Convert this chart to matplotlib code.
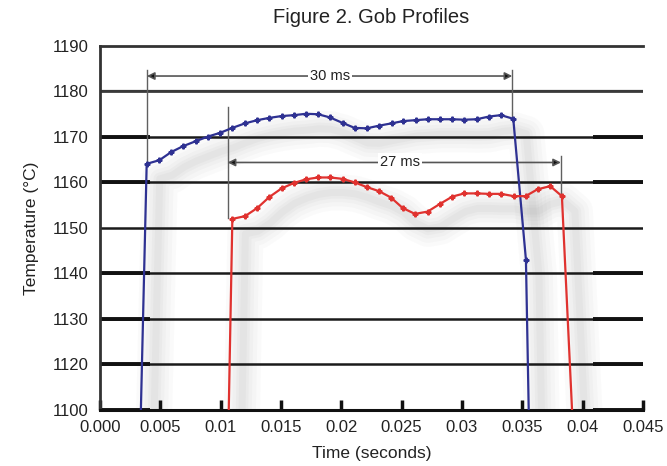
import matplotlib
matplotlib.use("Agg")
import matplotlib.pyplot as plt
from matplotlib import transforms

plt.rcParams['font.family'] = ['Liberation Sans', 'DejaVu Sans']

# ---- data ----
blue_t = [0.0033, 0.00387, 0.00492, 0.00591, 0.0069, 0.00796, 0.00895, 0.00994, 0.01097,
          0.01202, 0.01304, 0.01403, 0.01505, 0.01608, 0.01707, 0.01807, 0.01906, 0.0201,
          0.0211, 0.0221, 0.02315, 0.02417, 0.02513, 0.02616, 0.02715, 0.02818, 0.02917,
          0.03019, 0.03122, 0.03224, 0.03323, 0.03425, 0.0353, 0.0356]
blue_temp = [1100, 1164.1, 1164.9, 1166.7, 1168.0, 1169.1, 1170.1, 1170.9, 1172.0,
             1173.0, 1173.7, 1174.2, 1174.6, 1174.8, 1175.1, 1175.0, 1174.3, 1173.1,
             1172.0, 1171.9, 1172.5, 1173.0, 1173.5, 1173.7, 1173.9, 1173.9, 1173.9,
             1173.8, 1173.9, 1174.5, 1174.8, 1174.0, 1143.0, 1100]

red_t = [0.0106, 0.01097, 0.01202, 0.01304, 0.01403, 0.01505, 0.01608, 0.01707, 0.01807,
         0.01909, 0.0201, 0.02113, 0.0221, 0.02312, 0.02411, 0.02508, 0.0261, 0.02715,
         0.02818, 0.0292, 0.03019, 0.03122, 0.03224, 0.03325, 0.03428, 0.03527, 0.03626,
         0.03731, 0.03828, 0.0393]
red_temp = [1100, 1152.0, 1152.6, 1154.4, 1156.8, 1158.7, 1159.9, 1160.7, 1161.1,
            1161.1, 1160.8, 1160.0, 1159.0, 1158.1, 1156.7, 1154.4, 1153.1, 1153.6,
            1155.3, 1156.9, 1157.6, 1157.6, 1157.5, 1157.5, 1157.0, 1157.0, 1158.5,
            1159.2, 1157.0, 1100]

x_ticks = [0.0, 0.005, 0.01, 0.015, 0.02, 0.025, 0.03, 0.035, 0.04, 0.045]
x_tick_labels = ["0.000", "0.005", "0.01", "0.015", "0.02", "0.025", "0.03", "0.035", "0.04", "0.045"]
y_ticks = [1110, 1120, 1130, 1140, 1150, 1160, 1170, 1180, 1190]
y_tick_labels = ["1100", "1120", "1130", "1140", "1150", "1160", "1170", "1180", "1190"]

span30_t = [0.00389, 0.03417]
span30_temp = 1183.4
span30_label = "30 ms"
span27_t = [0.01058, 0.0382]
span27_temp = 1164.4
span27_label = "27 ms"

BLUE = "#2e3192"
RED = "#e0322f"
GUIDE = "#606060"

fig = plt.figure(figsize=(6.67, 4.66), dpi=100)
ax = fig.add_axes([0.1499, 0.1202, 0.8141, 0.7811])
ax.set_xlim(0, 0.045)
ax.set_ylim(1110, 1190)

# soft drop shadows
shadow = transforms.offset_copy(ax.transData, fig=fig, x=13, y=-15, units='dots')
for t, v in ((blue_t, blue_temp), (red_t, red_temp)):
    for lw, a in ((26, 0.03), (20, 0.035), (14, 0.04), (9, 0.045), (5, 0.05)):
        ax.plot(t, v, color="#7a7a7a", lw=lw, alpha=a, transform=shadow,
                solid_capstyle='round', solid_joinstyle='round', zorder=0.5)

# gridlines
for yv in y_ticks[:-1]:
    ax.axhline(yv, color="#1a1a1a", lw=1.8, zorder=1)
ax.axhline(1180, color="#3a3a3a", lw=1.6, zorder=1)

# data lines
ax.plot(blue_t, blue_temp, color=BLUE, lw=1.6, marker='P', ms=3.4, markevery=slice(1, -1), zorder=4)
ax.plot(red_t, red_temp, color=RED, lw=1.6, marker='P', ms=3.4, markevery=slice(1, -1), zorder=4)

# span guides
def span(ts, yv, label, v_left, v_right, lx):
    ax.plot([ts[0], ts[0]], v_left, color=GUIDE, lw=1, zorder=3)
    ax.plot([ts[1], ts[1]], v_right, color=GUIDE, lw=1, zorder=3)
    for end in ts:
        ax.annotate('', xy=(end, yv), xytext=(lx, yv),
                    arrowprops=dict(arrowstyle='-|>', color=GUIDE, lw=1.2,
                                    mutation_scale=11, shrinkA=0, shrinkB=0,
                                    fc='#111111', ec='#555555'), zorder=3)
    ax.text(lx, yv, label, ha='center', va='center', fontsize=10.5, color='#222222',
            bbox=dict(boxstyle='square,pad=0.15', fc='white', ec='none'), zorder=5)

span(span30_t, span30_temp, span30_label, [1184.7, 1164.1], [1184.7, 1174.0], 0.01906)
span(span27_t, span27_temp, span27_label, [1176.6, 1152.2], [1165.9, 1157.0], 0.02486)

# axes styling
ax.spines['right'].set_visible(False)
ax.spines['top'].set_color('#333333')
ax.spines['top'].set_linewidth(2)
ax.spines['left'].set_color('#333333')
ax.spines['left'].set_linewidth(2)
ax.spines['bottom'].set_color('#111111')
ax.spines['bottom'].set_linewidth(2.2)

ax.set_xticks(x_ticks)
ax.set_xticklabels(x_tick_labels)
ax.set_yticks(y_ticks)
ax.set_yticklabels(y_tick_labels)
ax.tick_params(axis='x', direction='in', length=7, width=2.5, color='#111111',
               labelsize=12, pad=7, labelcolor='#222222')
ax.tick_params(axis='y', direction='in', length=36, width=2.8, color='#111111',
               labelsize=12, pad=8, labelcolor='#222222', right=True)
for tick, val in zip(ax.yaxis.get_major_ticks(), y_ticks):
    if val in (1150, 1180, 1190):
        tick.tick1line.set_visible(False)
        tick.tick2line.set_visible(False)

ax.set_xlabel("Time (seconds)", fontsize=12.5, color='#222222', labelpad=8)
ax.set_ylabel("Temperature (°C)", fontsize=12.5, color='#222222', labelpad=10)
fig.text(0.556, 0.962, "Figure 2. Gob Profiles", ha='center', va='center',
         fontsize=14.5, color='#222222')

fig.savefig("out.png", dpi=100)
